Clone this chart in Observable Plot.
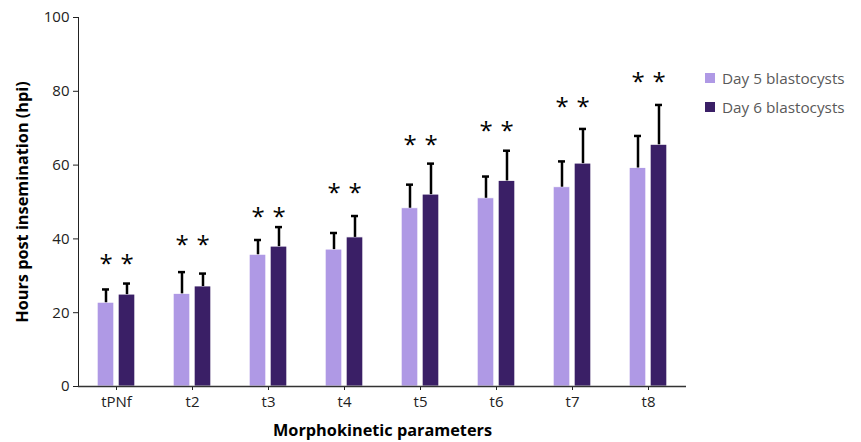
<!DOCTYPE html>
<html>
<head>
<meta charset="utf-8">
<script src="https://cdn.jsdelivr.net/npm/d3@7"></script>
<script src="https://cdn.jsdelivr.net/npm/@observablehq/plot@0.6"></script>
<style>
  html, body { margin: 0; padding: 0; background: #fff; }
  #wrap { position: relative; width: 861px; height: 442px; font-family: "Open Sans", sans-serif; }
  #wrap svg [aria-label="y-axis label"], #wrap svg [aria-label="fx-axis label"] { font-weight: bold; fill: #000; font-size: 16.3px; }
  #legend { position: absolute; left: 705px; top: 63px; font-size: 15.3px; color: #595959; }
  #legend div { display: flex; align-items: center; height: 29px; }
  #legend span.sw { display: inline-block; width: 10px; height: 10px; margin-right: 7px; }
</style>
</head>
<body>
<div id="wrap"></div>
<script>
const categories = ["tPNf", "t2", "t3", "t4", "t5", "t6", "t7", "t8"];
const series = ["Day 5 blastocysts", "Day 6 blastocysts"];
const colors = ["#af99e5", "#3a1f66"];
const day5 = [22.7, 25.1, 35.7, 37.1, 48.3, 51.0, 54.0, 59.2];
const day5Sd = [3.6, 5.9, 4.0, 4.5, 6.4, 5.9, 7.0, 8.7];
const day6 = [24.9, 27.1, 37.9, 40.4, 52.0, 55.7, 60.4, 65.5];
const day6Sd = [3.0, 3.5, 5.3, 5.8, 8.4, 8.2, 9.4, 10.8];
const starY = [34.7, 39.8, 47.6, 53.9, 67.0, 70.7, 77.2, 84.0];
const yTicks = [0, 20, 40, 60, 80, 100];

const rows = [];
categories.forEach((c, i) => {
  rows.push({cat: c, s: series[0], v: day5[i], hi: day5[i] + day5Sd[i], star: starY[i]});
  rows.push({cat: c, s: series[1], v: day6[i], hi: day6[i] + day6Sd[i], star: starY[i]});
});

const chart = Plot.plot({
  width: 861,
  height: 442,
  marginTop: 17,
  marginBottom: 56,
  marginLeft: 78,
  marginRight: 175,
  style: {fontFamily: "'Open Sans', sans-serif", fontSize: "15px", color: "#222", background: "#fff"},
  fx: {domain: categories, padding: 0, round: false, label: "Morphokinetic parameters", labelAnchor: "center", labelOffset: 49, tickSize: 4, tickPadding: 6},
  x: {domain: series, paddingInner: 0.21, paddingOuter: 0.915, round: false, axis: null},
  y: {domain: [0, 100], ticks: yTicks, tickSize: 5, tickPadding: 4, label: "Hours post insemination (hpi)", labelAnchor: "center", labelArrow: "none", labelOffset: 62, line: true},
  color: {domain: series, range: colors},
  marks: [
    Plot.barY(rows, {fx: "cat", x: "s", y: "v", fill: "s", stroke: "#fff", strokeWidth: 0.8}),
    Plot.ruleX(rows, {fx: "cat", x: "s", y1: "v", y2: "hi", stroke: "#000", strokeWidth: 2.5}),
    Plot.tickY(rows, {fx: "cat", x: "s", y: "hi", stroke: "#000", strokeWidth: 2.5, insetLeft: 4.8, insetRight: 4.8}),
    Plot.text(rows, {fx: "cat", x: "s", y: "star", text: () => "*", fontSize: 24, fill: "#000", dy: 6}),
    Plot.ruleY([0], {stroke: "#333", strokeWidth: 1.3})
  ]
});
document.getElementById("wrap").appendChild(chart);

const legend = document.createElement("div");
legend.id = "legend";
series.forEach((s, i) => {
  const row = document.createElement("div");
  const sw = document.createElement("span");
  sw.className = "sw";
  sw.style.background = colors[i];
  row.appendChild(sw);
  row.appendChild(document.createTextNode(s));
  legend.appendChild(row);
});
document.getElementById("wrap").appendChild(legend);
</script>
</body>
</html>
